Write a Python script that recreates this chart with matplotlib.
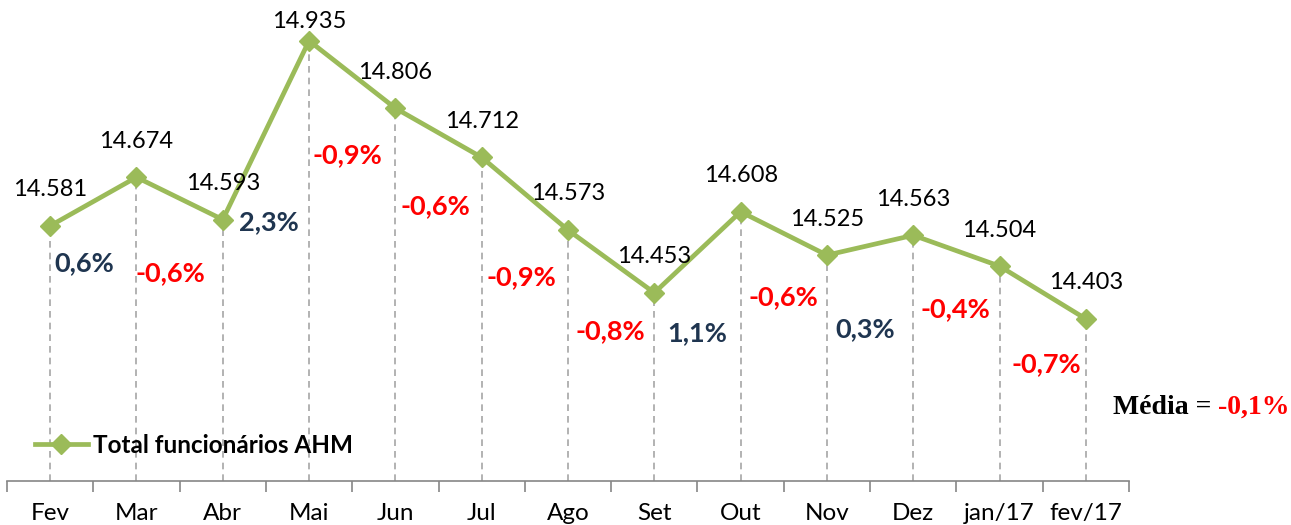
import matplotlib
matplotlib.use('Agg')
import matplotlib.pyplot as plt
import numpy as np

# ── data ─────────────────────────────────────────────────────────────────────
months = ['Fev', 'Mar', 'Abr', 'Mai', 'Jun', 'Jul', 'Ago', 'Set', 'Out',
          'Nov', 'Dez', 'jan/17', 'fev/17']
staff = [14.581, 14.674, 14.593, 14.935, 14.806, 14.712, 14.573, 14.453,
         14.608, 14.525, 14.563, 14.504, 14.403]
pct_change = [0.6, -0.6, 2.3, -0.9, -0.6, -0.9, -0.8, 1.1, -0.6, 0.3, -0.4, -0.7]
media = -0.1

# label placement for the % changes (x offset in categories, y in data units)
pct_dx = [0.39, 0.39, 0.53, 0.44, 0.46, 0.46, 0.49, 0.50, 0.49, 0.44, 0.49, 0.54]
pct_y = [14.510, 14.491, 14.589, 14.717, 14.619, 14.483, 14.380, 14.376,
         14.445, 14.384, 14.422, 14.317]

GREEN = '#9BBB59'
NAVY = '#1F3550'
RED = '#FF0000'
GRID = '#A6A6A6'
AXIS = '#868686'
FONT = 'Lato'

fig = plt.figure(figsize=(12.91, 5.25), dpi=100)
ax = fig.add_axes([7 / 1291, 1 - 481 / 525, 1122 / 1291, 481 / 525])
x = np.arange(len(months))

ax.set_xlim(-0.5, len(months) - 0.5)
ax.set_ylim(14.093, 15.013)

# drop lines
ax.vlines(x, 14.093, staff, colors=GRID, linestyles=(0, (4, 3)), lw=1.2, zorder=1)

line, = ax.plot(x, staff, color=GREEN, lw=3.4, marker='D', markersize=10,
                markerfacecolor=GREEN, markeredgecolor=GREEN, zorder=3,
                label='Total funcionários AHM')

# value labels
for i, v in enumerate(staff):
    off = 14 if i == 3 else 26
    ax.annotate(f'{v:.3f}', (x[i], v), xytext=(0, off), textcoords='offset points',
                ha='center', va='center', fontsize=17, family=FONT, color='black',
                zorder=4)

# % change labels
for i, p in enumerate(pct_change):
    txt = f'{p:.1f}%'.replace('.', ',')
    ax.text(x[i] + pct_dx[i], pct_y[i], txt, ha='center', va='center',
            fontsize=19.5, fontweight='bold', family=FONT,
            color=NAVY if p > 0 else RED, zorder=4)

# axes styling
for s in ['top', 'right', 'left']:
    ax.spines[s].set_visible(False)
ax.spines['bottom'].set_color(AXIS)
ax.spines['bottom'].set_linewidth(1.2)
ax.set_yticks([])
ax.set_xticks(x)
ax.set_xticklabels(months, fontsize=17.5, family=FONT)
ax.tick_params(axis='x', which='major', length=0, pad=16)
ax.set_xticks(np.arange(-0.5, len(months)), minor=True)
ax.tick_params(axis='x', which='minor', length=8, width=1.2, color=AXIS)

leg = ax.legend(handles=[line], loc='lower left', bbox_to_anchor=(0.016, 0.03),
                frameon=False, handlelength=2.2, handletextpad=0.2, borderaxespad=0.0,
                prop={'family': FONT, 'weight': 'bold', 'size': 17.5})

# média
t1 = fig.text(1113 / 1291, 1 - 407 / 525, 'Média = ', ha='left', va='center',
              fontsize=20, fontweight='bold', family='Liberation Serif', color='black')
ax.annotate(f'{media:.1f}%'.replace('.', ','), xy=(1, 0), xycoords=t1,
            ha='left', va='bottom', fontsize=20, fontweight='bold',
            family='Liberation Serif', color=RED, annotation_clip=False)

fig.savefig('out.png', dpi=100, facecolor='white')
